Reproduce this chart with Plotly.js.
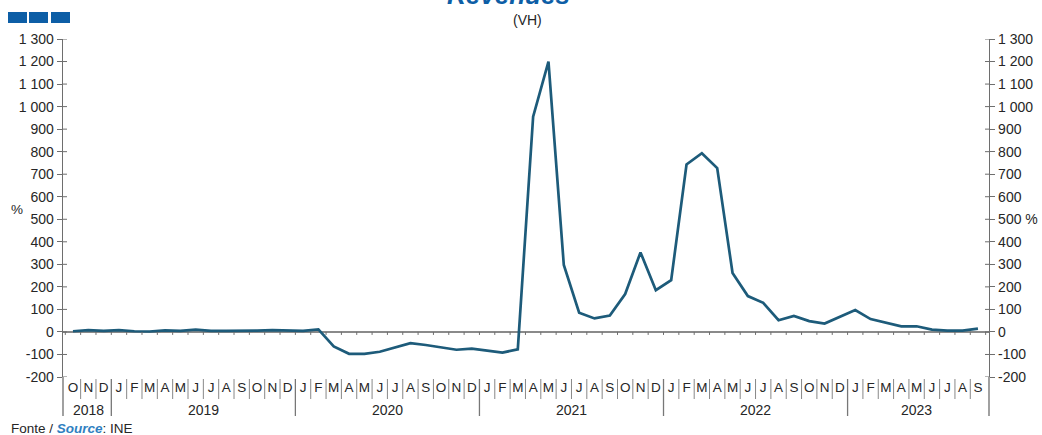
<!DOCTYPE html>
<html>
<head>
<meta charset="utf-8">
<script src="https://cdn.plot.ly/plotly-3.0.1.min.js"></script>
<style>html,body{margin:0;padding:0;background:#fff;}#chart{width:1042px;height:435px;}</style>
</head>
<body>
<div id="chart"></div>
<script>
// ---- data ----
const months = ["O","N","D",
  "J","F","M","A","M","J","J","A","S","O","N","D",
  "J","F","M","A","M","J","J","A","S","O","N","D",
  "J","F","M","A","M","J","J","A","S","O","N","D",
  "J","F","M","A","M","J","J","A","S","O","N","D",
  "J","F","M","A","M","J","J","A","S"];
const years = ["2018","2019","2020","2021","2022","2023"];
const monthsPerYear = [3,12,12,12,12,9];
const revenues = [
  3, 8, 5,
  8, 3, 2, 7, 5, 10, 5, 5, 4, 6, 8, 7,
  5, 11, -64, -97, -97, -88, -70, -50, -58, -67, -79, -74,
  -84, -92, -77, 955, 1200, 297, 85, 60, 73, 168, 353, 185,
  230, 743, 793, 727, 262, 159, 129, 52, 71, 48, 37, 67,
  97, 57, 42, 25, 25, 10, 6, 6, 15
];
const yTicks = [-200,-100,0,100,200,300,400,500,600,700,800,900,1000,1100,1200,1300];

// ---- build ----
const idx = months.map((m,i)=>i);
const FONT = "Liberation Sans, Arial, sans-serif";
const axisCol = "#6e6e6e";
const txtCol = "#262626";
const fmt = v => { const s = String(Math.abs(v)); const t = s.length>3 ? s.slice(0,s.length-3)+" "+s.slice(-3) : s; return (v<0?"-":"")+t; };
const leftText = yTicks.map(fmt);
const rightText = yTicks.map(v => v===500 ? fmt(v)+" %" : fmt(v));

const pxToPaperY = p => (377 - p) / 338;
const pxToPaperX = p => (p - 63) / 926;

const shapes = [];
for (let i = 0; i <= months.length; i++) {
  shapes.push({type:"line", xref:"x", yref:"y", ysizemode:"pixel", yanchor:0,
    x0:i-0.5, x1:i-0.5, y0:0, y1:-3, line:{color:axisCol, width:1}});
}
let b = 0;
const yearBounds = [0];
monthsPerYear.forEach(n => { b += n; yearBounds.push(b); });
for (let i = 1; i < months.length; i++) {
  const isYear = yearBounds.indexOf(i) >= 0;
  shapes.push({type:"line", xref:"x", yref:"paper",
    x0:i-0.5, x1:i-0.5, y0:pxToPaperY(379), y1:pxToPaperY(isYear?416:399),
    line:{color: isYear ? "#777" : "#888", width: isYear ? 1.3 : 1}});
}
[0,1].forEach(xp => shapes.push({type:"line", xref:"paper", yref:"paper",
  x0:xp, x1:xp, y0:0, y1:pxToPaperY(416), line:{color:axisCol, width:1.3}}));
yTicks.forEach(v => {
  shapes.push({type:"line", xref:"paper", yref:"y", x0:0, x1:4/926, y0:v, y1:v, line:{color:axisCol, width:1}});
  shapes.push({type:"line", xref:"paper", yref:"y", x0:1, x1:1-4/926, y0:v, y1:v, line:{color:axisCol, width:1}});
});
[[8,27],[29,48],[51,70]].forEach(([a,c]) => shapes.push({type:"rect", xref:"paper", yref:"paper",
  x0:pxToPaperX(a), x1:pxToPaperX(c), y0:pxToPaperY(23), y1:pxToPaperY(12),
  fillcolor:"#0d5ea6", line:{width:0}}));

const annotations = [];
let start = 0;
years.forEach((y,k) => {
  const n = monthsPerYear[k];
  annotations.push({xref:"x", yref:"paper", x:start + (n-1)/2, y:pxToPaperY(410),
    text:y, showarrow:false, font:{family:FONT, size:14, color:txtCol}, xanchor:"center", yanchor:"middle"});
  start += n;
});
annotations.push({xref:"paper", yref:"paper", x:pxToPaperX(508), y:pxToPaperY(12), xanchor:"center", yanchor:"bottom",
  text:"<b><i>Revenues</i></b>", showarrow:false, font:{family:FONT, size:26, color:"#0d5ea6"}});
annotations.push({xref:"paper", yref:"paper", x:pxToPaperX(527), y:pxToPaperY(20), xanchor:"center", yanchor:"middle",
  text:"(VH)", showarrow:false, font:{family:FONT, size:14, color:txtCol}});
annotations.push({xref:"paper", yref:"paper", x:pxToPaperX(17), y:pxToPaperY(209), xanchor:"center", yanchor:"middle",
  text:"%", showarrow:false, font:{family:FONT, size:13.5, color:txtCol}});
annotations.push({xref:"paper", yref:"paper", x:pxToPaperX(9), y:pxToPaperY(428), xanchor:"left", yanchor:"middle",
  text:"Fonte / <b><i><span style='color:#2f7fc1'>Source</span></i></b>: INE", showarrow:false,
  font:{family:FONT, size:13.5, color:txtCol}});

const trace = {x: idx, y: revenues, type:"scatter", mode:"lines",
  line:{color:"#1d5b7a", width:2.7}, hoverinfo:"skip"};
const trace2 = {x: idx, y: revenues, type:"scatter", mode:"lines", xaxis:"x", yaxis:"y2",
  line:{color:"rgba(0,0,0,0)", width:0}, hoverinfo:"skip", showlegend:false};

const layout = {
  width:1042, height:435,
  margin:{l:63, r:53, t:39, b:58, pad:0},
  paper_bgcolor:"#fff", plot_bgcolor:"#fff",
  showlegend:false,
  font:{family:FONT, size:14, color:txtCol},
  xaxis:{range:[-0.65, 59.72], tickmode:"array", tickvals:idx, ticktext:months,
    ticks:"", showline:false, showgrid:false, zeroline:false, fixedrange:true,
    tickfont:{family:FONT, size:13.5, color:txtCol}, tickangle:0},
  yaxis:{range:[-200,1300], tickmode:"array", tickvals:yTicks, ticktext:leftText,
    ticks:"outside", ticklen:5, tickcolor:axisCol, tickwidth:1,
    showline:true, linecolor:axisCol, linewidth:1.3, showgrid:false,
    zeroline:true, zerolinecolor:"#8a8a8a", zerolinewidth:1.6, fixedrange:true,
    tickfont:{family:FONT, size:14, color:txtCol}},
  yaxis2:{range:[-200,1300], overlaying:"y", side:"right", anchor:"x", tickmode:"array", tickvals:yTicks, ticktext:rightText,
    ticks:"outside", ticklen:5, tickcolor:axisCol, tickwidth:1,
    showline:true, linecolor:axisCol, linewidth:1.3, showgrid:false, zeroline:false, fixedrange:true,
    tickfont:{family:FONT, size:14, color:txtCol}},
  shapes: shapes,
  annotations: annotations
};

Plotly.newPlot("chart", [trace2, trace], layout, {staticPlot:true, displayModeBar:false});
</script>
</body>
</html>
